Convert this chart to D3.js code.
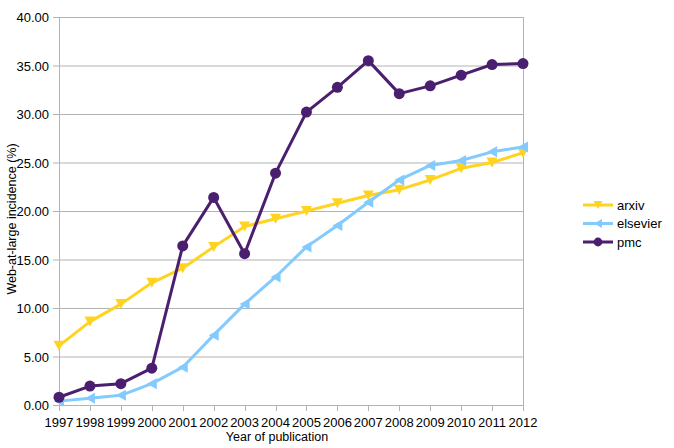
<!DOCTYPE html>
<html><head><meta charset="utf-8">
<script src="https://cdn.jsdelivr.net/npm/d3@7"></script>
<style>body{margin:0;background:#fff}svg{display:block}text{font-family:"Liberation Sans",Arial,sans-serif;fill:#000}</style>
</head><body>
<svg id="c" width="674" height="448"></svg>
<script>
const years = ["1997","1998","1999","2000","2001","2002","2003","2004","2005","2006","2007","2008","2009","2010","2011","2012"];
const arxiv =    [6.1, 8.6, 10.4, 12.6, 14.1, 16.3, 18.4, 19.2, 20.0, 20.8, 21.6, 22.2, 23.2, 24.4, 25.0, 26.0];
const elsevier = [0.4, 0.7, 1.0, 2.2, 3.9, 7.2, 10.4, 13.2, 16.3, 18.5, 20.9, 23.2, 24.7, 25.2, 26.1, 26.6];
const pmc =      [0.8, 1.95, 2.2, 3.8, 16.4, 21.4, 15.6, 23.9, 30.2, 32.75, 35.5, 32.1, 32.9, 34.0, 35.1, 35.2];
const yTicks = [0,5,10,15,20,25,30,35,40];
const seriesNames = ["arxiv","elsevier","pmc"];
const colors = ["#ffd320","#83caff","#4b1f6f"];

const svg = d3.select("#c");
const x = d3.scalePoint().domain(years).range([59,523]).padding(0);
const y = d3.scaleLinear().domain([0,40]).range([405,17]);

// grid
svg.append("g").selectAll("line").data(yTicks).join("line")
  .attr("x1",53).attr("x2",523).attr("y1",d=>y(d)+0.5).attr("y2",d=>y(d)+0.5)
  .attr("stroke","#b3b3b3").attr("stroke-width",1);
// left & right frame
svg.append("line").attr("x1",59.5).attr("x2",59.5).attr("y1",y(40)).attr("y2",y(0)).attr("stroke","#b3b3b3");
svg.append("line").attr("x1",523.5).attr("x2",523.5).attr("y1",y(40)).attr("y2",y(0)).attr("stroke","#b3b3b3");
// x ticks
svg.append("g").selectAll("line").data(years).join("line")
  .attr("x1",d=>Math.round(x(d))+0.5).attr("x2",d=>Math.round(x(d))+0.5).attr("y1",y(0)).attr("y2",y(0)+6)
  .attr("stroke","#b3b3b3");
// y labels
svg.append("g").selectAll("text").data(yTicks).join("text")
  .attr("x",49).attr("y",d=>y(d)+5).attr("text-anchor","end").attr("font-size",13)
  .text(d=>d.toFixed(2));
// x labels
svg.append("g").selectAll("text").data(years).join("text")
  .attr("x",d=>x(d)).attr("y",427).attr("text-anchor","middle").attr("font-size",13)
  .text(d=>d);
svg.append("text").attr("x",277).attr("y",441).attr("text-anchor","middle").attr("font-size",12.5).text("Year of publication");
svg.append("text").attr("transform","translate(16,219) rotate(-90)").attr("text-anchor","middle").attr("font-size",12.5).text("Web-at-large incidence (%)");

const markers = [
  g=>g.append("path").attr("d","M-5.5,-5L5.5,-5L0,5Z"),
  g=>g.append("path").attr("d","M5,-5.5L5,5.5L-5,0Z"),
  g=>g.append("circle").attr("r",5.5)
];
const data = [arxiv, elsevier, pmc];
const line = d3.line().x((d,i)=>x(years[i])).y(d=>y(d));
data.forEach((vals,k)=>{
  svg.append("path").attr("d",line(vals)).attr("fill","none").attr("stroke",colors[k]).attr("stroke-width",3).attr("stroke-linejoin","round");
  vals.forEach((v,i)=>{
    const g = svg.append("g").attr("transform",`translate(${x(years[i])},${y(v)})`).attr("fill",colors[k]);
    markers[k](g);
  });
});
// legend
const legY = [205,223.5,242];
seriesNames.forEach((n,k)=>{
  svg.append("line").attr("x1",583).attr("x2",613).attr("y1",legY[k]).attr("y2",legY[k]).attr("stroke",colors[k]).attr("stroke-width",3);
  const g = svg.append("g").attr("transform",`translate(598,${legY[k]}) scale(0.8)`).attr("fill",colors[k]);
  markers[k](g);
  svg.append("text").attr("x",617).attr("y",legY[k]+4.5).attr("font-size",13).text(n);
});
</script>
</body></html>
